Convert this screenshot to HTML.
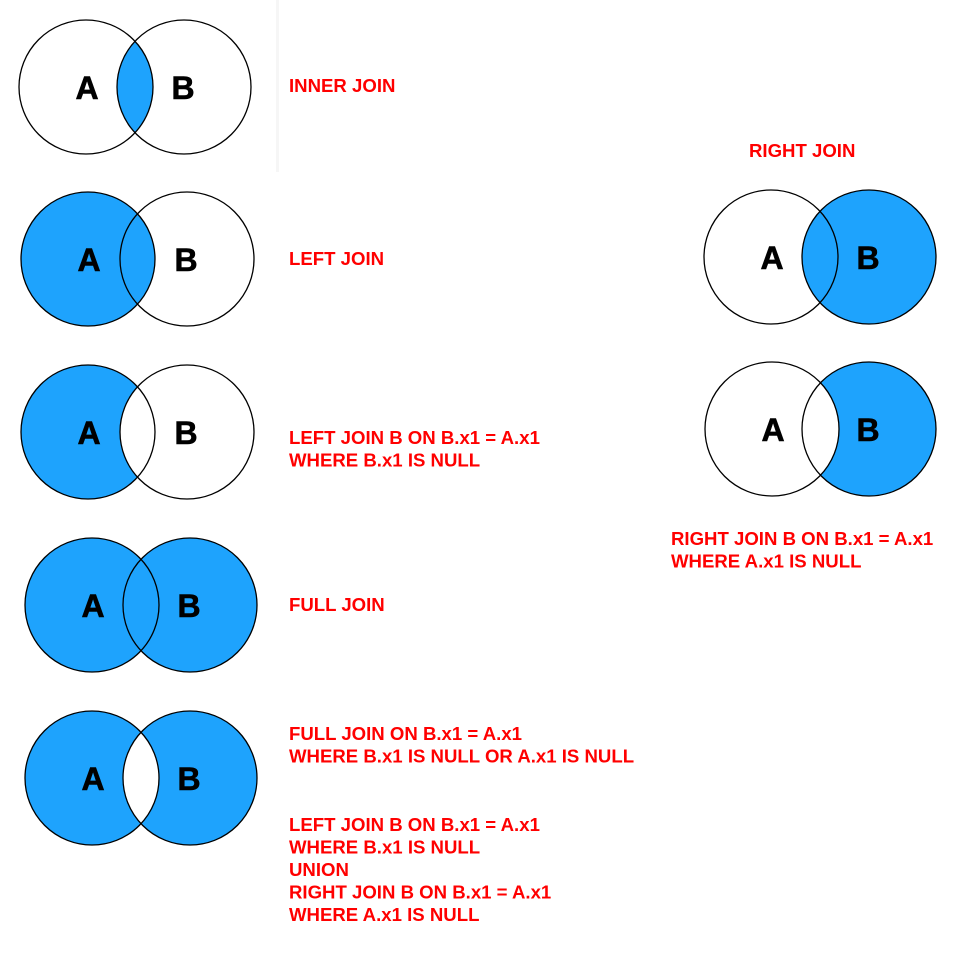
<!DOCTYPE html>
<html><head><meta charset="utf-8"><style>
html,body{margin:0;padding:0;background:#fff;width:960px;height:960px;overflow:hidden}
svg text{font-family:"Liberation Sans",Arial,sans-serif;font-weight:bold}
</style></head><body>
<svg id="s" width="960" height="960" xmlns="http://www.w3.org/2000/svg">
<rect x="0" y="0" width="960" height="960" fill="#fff"/>
<rect x="276" y="0" width="3" height="172" fill="#f6f6f6"/>
</svg>
<script>
const ns="http://www.w3.org/2000/svg";
const svg=document.getElementById('s');
const R=67, BLUE="#1ea3fd";
const diagrams=[
 {name:"inner-join",ax:86,bx:184,y:87,mode:"inner"},
 {name:"left-join",ax:88,bx:187,y:259,mode:"left"},
 {name:"left-only",ax:88,bx:187,y:432,mode:"aonly"},
 {name:"full-join",ax:92,bx:190,y:605,mode:"full"},
 {name:"full-exclusive",ax:92,bx:190,y:778,mode:"xor"},
 {name:"right-join",ax:771,bx:869,y:257,mode:"right"},
 {name:"right-only",ax:772,bx:869,y:429,mode:"bonly"}
];
const labels=[
 {x:289,y:92,lines:["INNER JOIN"]},
 {x:289,y:265,lines:["LEFT JOIN"]},
 {x:289,y:444,lines:["LEFT JOIN B ON B.x1 = A.x1","WHERE B.x1 IS NULL"]},
 {x:289,y:611,lines:["FULL JOIN"]},
 {x:289,y:740,lines:["FULL JOIN ON B.x1 = A.x1","WHERE B.x1 IS NULL OR A.x1 IS NULL"]},
 {x:289,y:831,lines:["LEFT JOIN B ON B.x1 = A.x1","WHERE B.x1 IS NULL","UNION","RIGHT JOIN B ON B.x1 = A.x1","WHERE A.x1 IS NULL"]},
 {x:749,y:157,lines:["RIGHT JOIN"]},
 {x:671,y:545,lines:["RIGHT JOIN B ON B.x1 = A.x1","WHERE A.x1 IS NULL"]}
];
function el(t,a){const e=document.createElementNS(ns,t);for(const k in a)e.setAttribute(k,a[k]);return e;}
const defs=el('defs',{});svg.appendChild(defs);
diagrams.forEach((d,i)=>{
  const g=el('g',{});
  
  
  svg.appendChild(g);
  const cB=`<circle cx="${d.bx}" cy="${d.y}" r="${R}"/>`;
  const cpB=el('clipPath',{id:'cb'+i});cpB.innerHTML=cB;defs.appendChild(cpB);
  const mA=el('mask',{id:'ma'+i});mA.innerHTML=`<rect x="0" y="0" width="960" height="960" fill="#fff"/><circle cx="${d.ax}" cy="${d.y}" r="${R}" fill="#000"/>`;defs.appendChild(mA);
  const mB=el('mask',{id:'mb'+i});mB.innerHTML=`<rect x="0" y="0" width="960" height="960" fill="#fff"/><circle cx="${d.bx}" cy="${d.y}" r="${R}" fill="#000"/>`;defs.appendChild(mB);
  const circ=(cx,extra)=>{const c=el('circle',Object.assign({cx:cx,cy:d.y,r:R,fill:BLUE},extra||{}));g.appendChild(c);return c;};
  if(d.mode==="inner") circ(d.ax,{'clip-path':`url(#cb${i})`});
  if(d.mode==="left"||d.mode==="full") circ(d.ax);
  if(d.mode==="right"||d.mode==="full") circ(d.bx);
  if(d.mode==="aonly"||d.mode==="xor") circ(d.ax,{mask:`url(#mb${i})`});
  if(d.mode==="bonly"||d.mode==="xor") circ(d.bx,{mask:`url(#ma${i})`});
  const oA=el('circle',{cx:d.ax,cy:d.y,r:R,fill:'none',stroke:'#000','stroke-width':1.3});
  
  
  g.appendChild(oA);
  const oB=el('circle',{cx:d.bx,cy:d.y,r:R,fill:'none',stroke:'#000','stroke-width':1.3});
  
  
  g.appendChild(oB);
  const tA=el('text',{x:d.ax+1,y:d.y+12,'font-size':32,'text-anchor':'middle',fill:'#000',stroke:'#000','stroke-width':0.6});tA.textContent='A';
  
  
  g.appendChild(tA);
  const tB=el('text',{x:d.bx-1,y:d.y+12,'font-size':32,'text-anchor':'middle',fill:'#000',stroke:'#000','stroke-width':0.6});tB.textContent='B';
  
  
  g.appendChild(tB);
});
labels.forEach(l=>{
  const t=el('text',{x:l.x,y:l.y,'font-size':18.6,fill:'#ff0000'});
  
  
  l.lines.forEach((s,j)=>{const ts=el('tspan',{x:l.x,y:l.y+j*22.5});ts.textContent=s;t.appendChild(ts);});
  svg.appendChild(t);
});
</script>
</body></html>
